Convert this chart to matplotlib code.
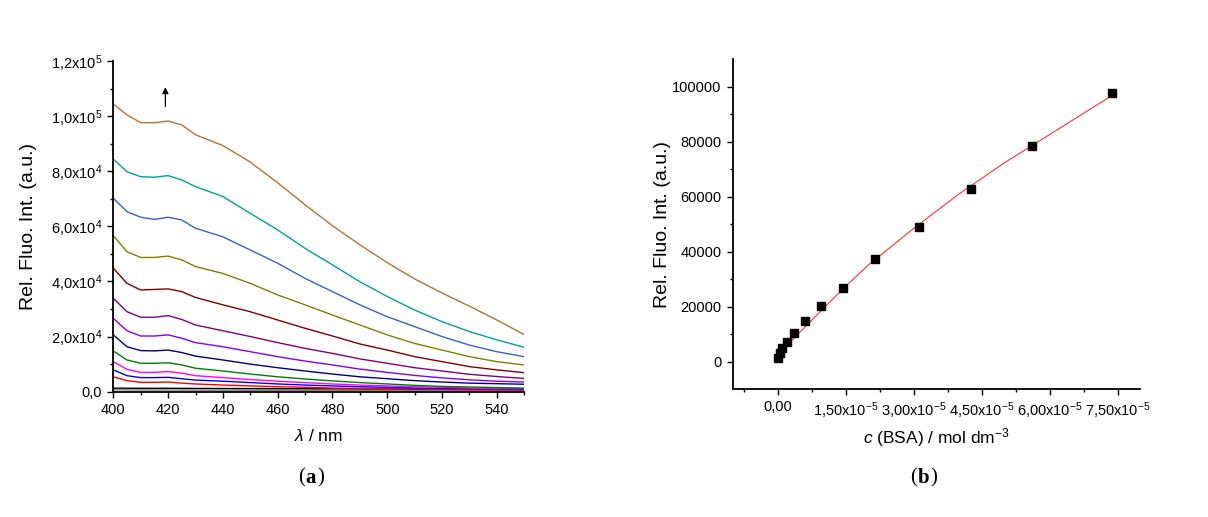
import numpy as np
import matplotlib
matplotlib.use('Agg')
import matplotlib.pyplot as plt
from matplotlib.ticker import FixedLocator

plt.rcParams['font.family'] = ['Liberation Sans', 'DejaVu Sans']
plt.rcParams['mathtext.fontset'] = 'custom'
plt.rcParams['mathtext.rm'] = 'Liberation Sans'
plt.rcParams['mathtext.it'] = 'Liberation Sans:italic'
plt.rcParams['mathtext.bf'] = 'Liberation Sans:bold'

# ---- panel (a): emission spectra ----
wavelength = [400, 405, 410, 415, 420, 425, 430, 440, 450, 460, 470,
              480, 490, 500, 510, 520, 530, 540, 550]

spec_gray = [700, 650, 620, 600, 600, 580, 560, 540, 520, 500, 480,
             470, 460, 450, 440, 430, 420, 410, 400]
spec_black = [1300, 1250, 1230, 1220, 1240, 1200, 1180, 1150, 1120, 1090, 1060,
              1030, 1000, 980, 950, 930, 900, 880, 860]
spec_red = [5400, 4000, 3400, 3400, 3500, 3100, 2800, 2400, 2100, 1800, 1600,
            1300, 1200, 1100, 1000, 850, 700, 700, 600]
spec_blue = [7900, 5800, 5100, 5100, 5200, 4700, 4200, 3800, 3300, 2800, 2400,
             2100, 1800, 1600, 1300, 1200, 1100, 1000, 850]
spec_magenta = [10900, 8100, 7000, 7000, 7300, 6700, 5800, 5100, 4400, 3800, 3300,
                2800, 2400, 2100, 1800, 1600, 1300, 1200, 1100]
spec_green = [14800, 11500, 10300, 10300, 10500, 9700, 8500, 7500, 6400, 5400, 4600,
              3900, 3300, 2800, 2300, 1900, 1700, 1500, 1300]
spec_navy = [20600, 16300, 14900, 14800, 15100, 14200, 12900, 11500, 10000, 8700, 7500,
             6400, 5400, 4700, 4000, 3500, 3100, 2900, 2700]
spec_violet = [26600, 22100, 20200, 20200, 20600, 19400, 17800, 16300, 14500, 12700, 11100,
               9700, 8200, 7000, 5900, 5000, 4300, 3800, 3500]
spec_purple = [33900, 29000, 27000, 27000, 27600, 26200, 24200, 22100, 20000, 17800, 15700,
               13900, 11900, 10300, 8700, 7500, 6300, 5500, 4800]
spec_wine = [44800, 39300, 36900, 37100, 37300, 36300, 34200, 31500, 29000, 26000, 23000,
             20200, 17300, 15100, 12700, 10900, 9100, 7900, 6900]
spec_olive = [56600, 50800, 48700, 48700, 49200, 47800, 45400, 42900, 39300, 35100, 31500,
              27800, 24200, 20600, 17500, 15100, 12700, 10900, 9700]
spec_royal = [70200, 65300, 63300, 62500, 63300, 62300, 59300, 56200, 51400, 46600, 41100,
              36300, 31500, 27200, 23600, 20000, 16900, 14500, 12700]
spec_cyan = [84400, 79800, 78000, 77800, 78400, 76800, 74400, 70800, 64700, 58700, 52000,
             46000, 39900, 34500, 29600, 25400, 21800, 18800, 16100]
spec_brown = [104400, 100400, 97600, 97600, 98200, 96800, 93200, 89300, 83300, 75800, 67800,
              60200, 53300, 46800, 40900, 35800, 31000, 26000, 20700]

spectra = [spec_gray, spec_black, spec_red, spec_blue, spec_magenta, spec_green,
           spec_navy, spec_violet, spec_purple, spec_wine, spec_olive, spec_royal,
           spec_cyan, spec_brown]
spec_colors = ['#808080', '#000000', '#ff0000', '#0000ff', '#ff00ff', '#008000',
               '#000080', '#8000ff', '#800080', '#800000', '#808000', '#3366cc',
               '#00a0a0', '#b87333']

yticks_a = [0, 20000, 40000, 60000, 80000, 100000, 120000]
yticklabels_a = ['0,0', r'2,0x10$^4$', r'4,0x10$^4$', r'6,0x10$^4$',
                 r'8,0x10$^4$', r'1,0x10$^5$', r'1,2x10$^5$']
xticks_a = [400, 420, 440, 460, 480, 500, 520, 540]

# ---- panel (b): intensity at 420 nm vs BSA concentration ----
conc = [0.007e-5, 0.04e-5, 0.10e-5, 0.196e-5, 0.354e-5, 0.604e-5, 0.943e-5,
        1.439e-5, 2.146e-5, 3.104e-5, 4.26e-5, 5.597e-5, 7.366e-5]
intensity = [1240, 3060, 4880, 7290, 10350, 14940, 20300,
             26970, 37300, 48980, 62830, 78350, 97800]

fit_conc = [0.0, 0.5e-5, 1.0e-5, 1.5e-5, 2.0e-5, 3.0e-5, 4.0e-5, 5.0e-5,
            6.0e-5, 7.37e-5]
fit_int = [2600, 11000, 19300, 27500, 35200, 48500, 61000, 72300, 82600, 96700]

xticks_b = [0, 1.5e-5, 3.0e-5, 4.5e-5, 6.0e-5, 7.5e-5]
xticklabels_b = ['0,00', r'1,50x10$^{-5}$', r'3,00x10$^{-5}$', r'4,50x10$^{-5}$',
                 r'6,00x10$^{-5}$', r'7,50x10$^{-5}$']
yticks_b = [0, 20000, 40000, 60000, 80000, 100000]

fig = plt.figure(figsize=(12.08, 5.17), dpi=100)
ax1 = fig.add_axes([0.0938, 0.2424, 0.3402, 0.6397])
ax2 = fig.add_axes([0.6064, 0.2470, 0.3377, 0.6389])

for ax in (ax1, ax2):
    ax.spines['top'].set_visible(False)
    ax.spines['right'].set_visible(False)
    ax.spines['left'].set_linewidth(1.3)
    ax.spines['bottom'].set_linewidth(1.3)
    ax.tick_params(which='major', direction='out', length=4.5, width=1.0, labelsize=10.5)
    ax.tick_params(which='minor', direction='out', length=2.5, width=1.0)

# panel (a)
for s, c in zip(spectra, spec_colors):
    ax1.plot(wavelength, s, color=c, lw=1.0)
ax1.set_xlim(400, 550)
ax1.set_ylim(0, 120000)
ax1.set_xticks(xticks_a)
ax1.xaxis.set_minor_locator(FixedLocator([410, 430, 450, 470, 490, 510, 530, 550]))
ax1.set_yticks(yticks_a)
ax1.set_yticklabels(yticklabels_a)
ax1.yaxis.set_minor_locator(FixedLocator([10000, 30000, 50000, 70000, 90000, 110000]))
ax1.set_xlabel(r'$\lambda$ / nm', fontsize=12.5)
ax1.set_ylabel('Rel. Fluo. Int. (a.u.)', fontsize=14)
ax1.xaxis.set_label_coords(0.5, -0.11)
ax1.yaxis.set_label_coords(-0.185, 0.5)
ax1.annotate('', xy=(419, 111500), xytext=(419, 102500),
             arrowprops=dict(arrowstyle='-|>', color='black', lw=0.9,
                             mutation_scale=9))

# panel (b)
ax2.plot(fit_conc, fit_int, color='#ff3030', lw=0.8)
ax2.plot(conc, intensity, 's', color='black', markersize=5.5)
ax2.set_xlim(-1e-5, 8e-5)
ax2.set_ylim(-10000, 110000)
ax2.set_xticks(xticks_b)
ax2.set_xticklabels(xticklabels_b)
ax2.xaxis.set_minor_locator(FixedLocator([-0.75e-5, 0.75e-5, 2.25e-5, 3.75e-5,
                                          5.25e-5, 6.75e-5]))
ax2.set_yticks(yticks_b)
ax2.set_yticklabels([str(v) for v in yticks_b])
ax2.yaxis.set_minor_locator(FixedLocator([10000, 30000, 50000, 70000, 90000]))
ax2.set_xlabel(r'$c$ (BSA) / mol dm$^{-3}$', fontsize=12.5)
ax2.set_ylabel('Rel. Fluo. Int. (a.u.)', fontsize=14)
ax2.xaxis.set_label_coords(0.5, -0.11)
ax2.yaxis.set_label_coords(-0.152, 0.5)

fig.text(0.2525, 0.075, '(', fontsize=15, family='Liberation Serif', ha='right', va='center')
fig.text(0.2525, 0.075, 'a', fontsize=15, family='Liberation Serif', weight='bold', ha='left', va='center')
fig.text(0.2628, 0.075, ')', fontsize=15, family='Liberation Serif', ha='left', va='center')
fig.text(0.7595, 0.075, '(', fontsize=15, family='Liberation Serif', ha='right', va='center')
fig.text(0.7595, 0.075, 'b', fontsize=15, family='Liberation Serif', weight='bold', ha='left', va='center')
fig.text(0.7705, 0.075, ')', fontsize=15, family='Liberation Serif', ha='left', va='center')

fig.savefig('out.png', dpi=100)
